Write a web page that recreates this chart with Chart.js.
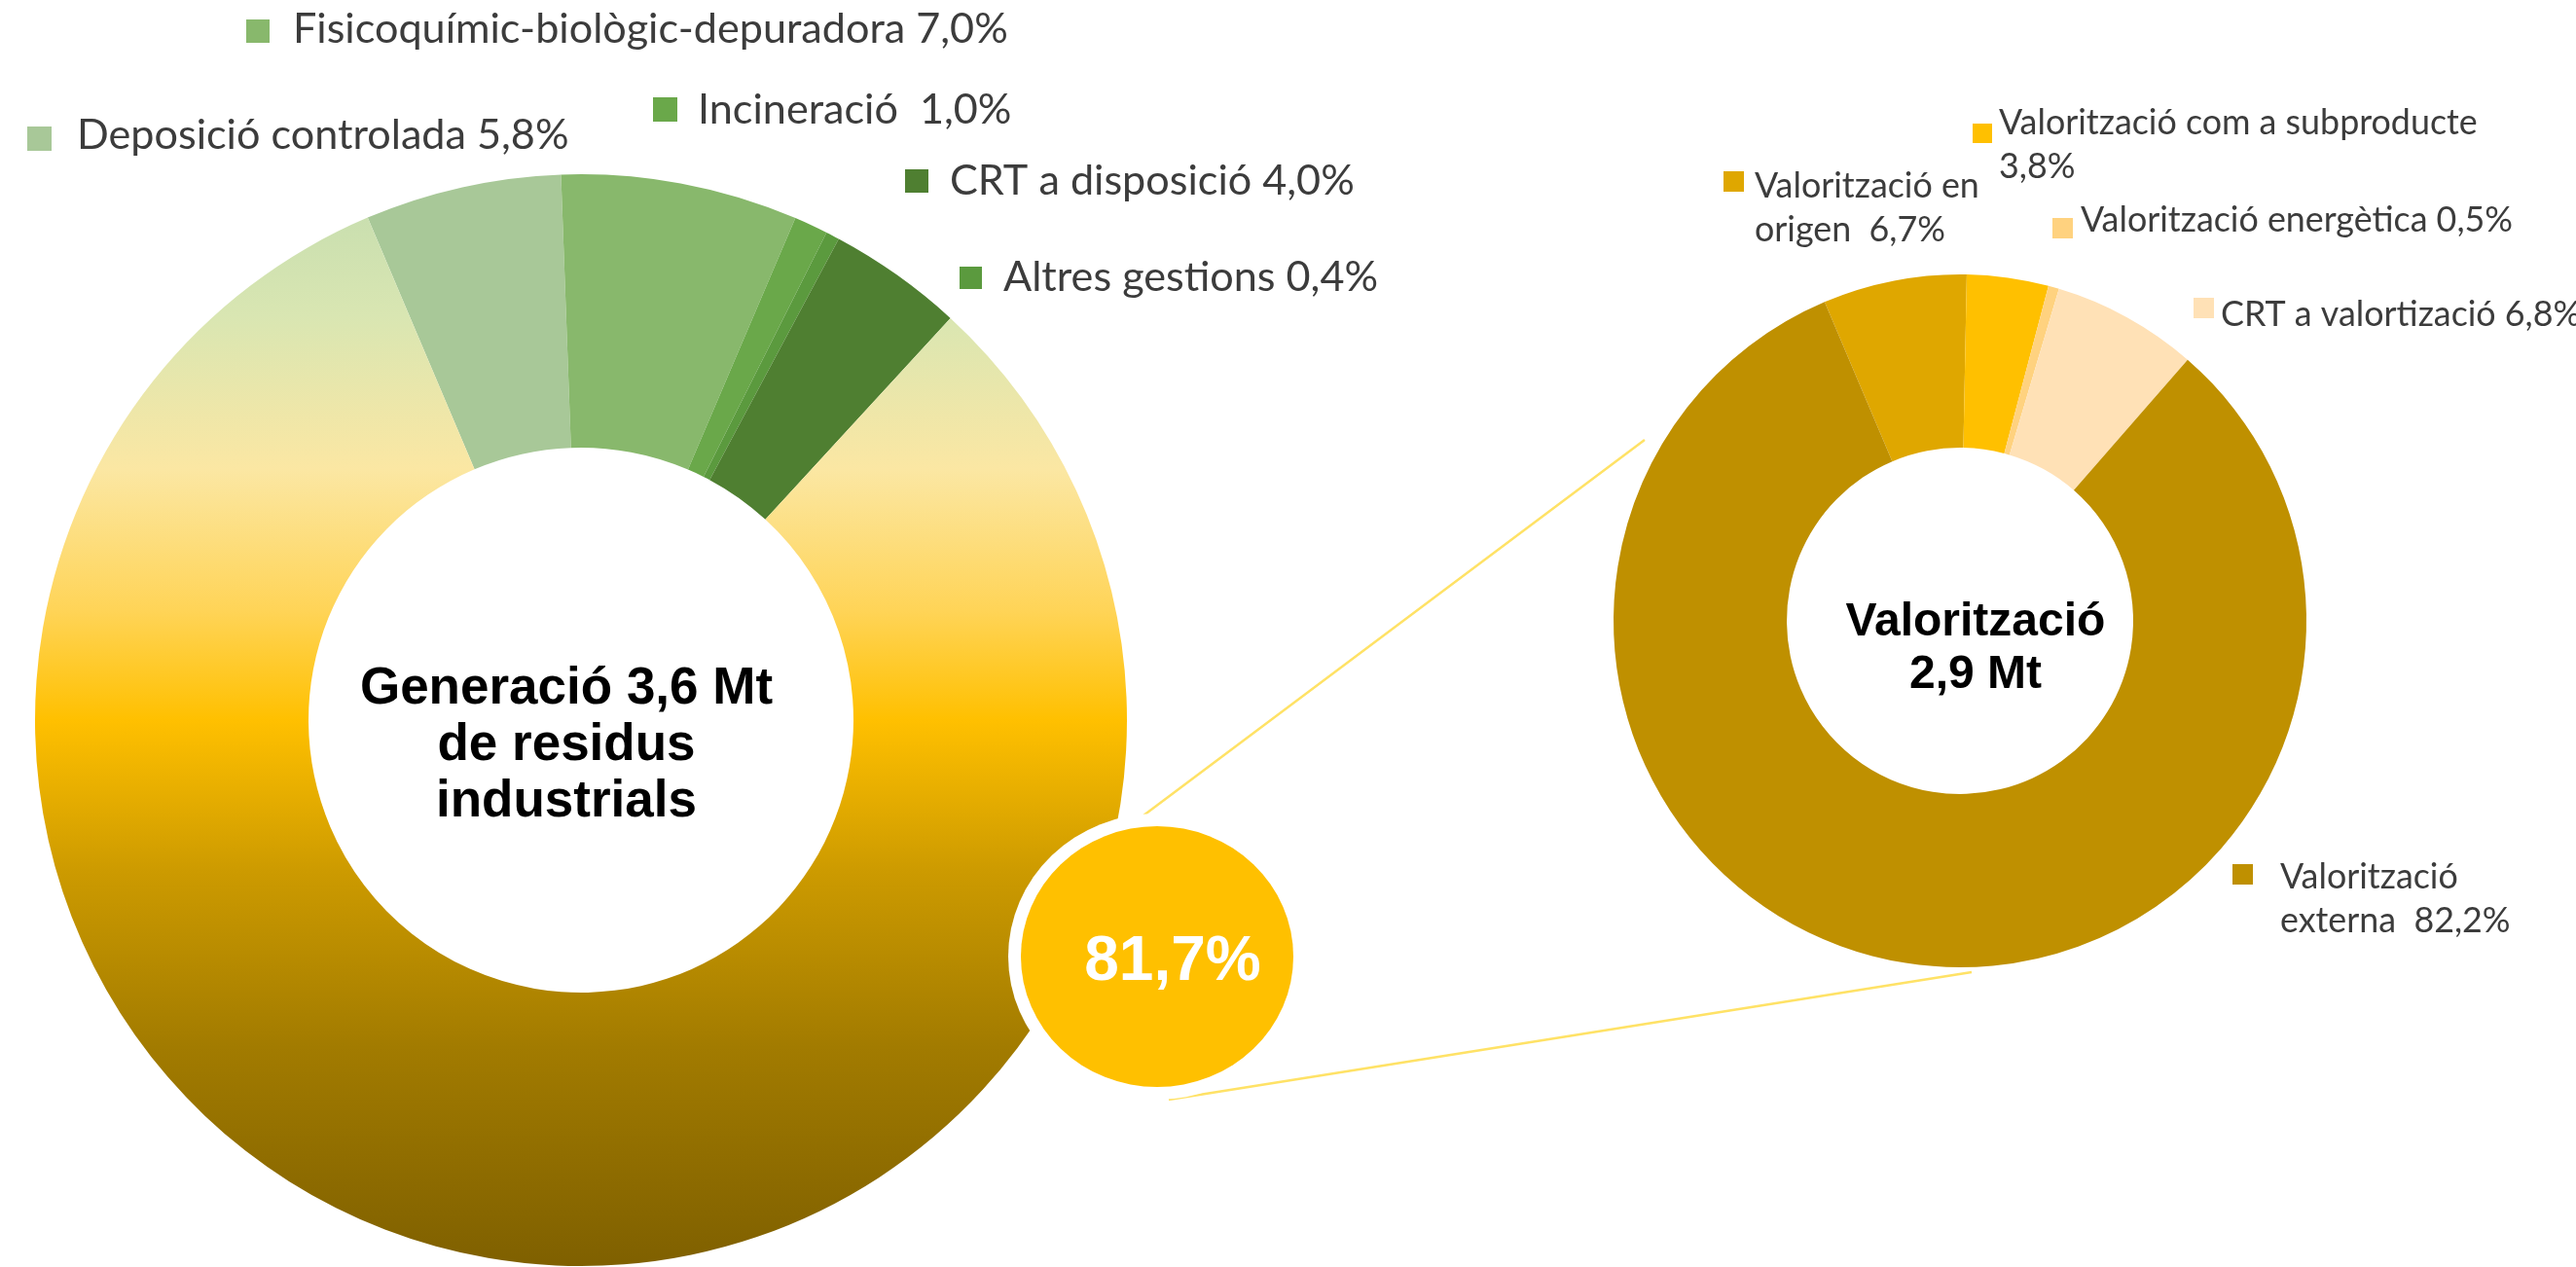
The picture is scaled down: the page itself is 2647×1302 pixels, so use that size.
<!DOCTYPE html>
<html><head><meta charset="utf-8">
<script src="https://cdn.jsdelivr.net/npm/chart.js@4.4.0/dist/chart.umd.min.js"></script>
<style>
html,body{margin:0;padding:0;background:#fff;}
#wrap{position:relative;width:2647px;height:1302px;overflow:hidden;}
canvas{position:absolute;left:0;top:0;}
</style></head><body>
<div id="wrap"><canvas id="c1" width="2647" height="1302"></canvas><canvas id="c2" width="2647" height="1302"></canvas></div>
<script>
// ---- data ----
const genLabels = ['Deposició controlada', 'Fisicoquímic-biològic-depuradora', 'Incineració', 'Altres gestions', 'CRT a disposició', 'Valorització'];
const genValues = [5.8, 7.0, 1.0, 0.4, 4.0, 81.7];
const genColors = ['#a8c898', '#88b86c', '#6aa84a', '#5b9a3e', '#4f7f31', null];
const valLabels = ['Valorització en origen', 'Valorització com a subproducte', 'Valorització energètica', 'CRT a valortizació', 'Valorització externa'];
const valValues = [6.7, 3.8, 0.5, 6.8, 82.2];
const valColors = ['#dfa700', '#ffc000', '#ffd27f', '#ffe1b6', '#bf9000'];
const genTitle = ['Generació 3,6 Mt', 'de residus', 'industrials'];
const valTitle = ['Valorització', '2,9 Mt'];
const calloutValue = 81.7;

const fmt = v => v.toFixed(1).replace('.', ',') + '%';
const LABEL_FONT = 'Lato, "Open Sans", sans-serif';
const BOLD_FONT = '"Liberation Sans", Arial, sans-serif';
const TEXT_COLOR = '#3c3c3c';

function fitSize(ctx, text, family, target) {
  ctx.font = '100px ' + family;
  return 100 * target / ctx.measureText(text).width;
}

// left labels: index -> lines and placement
const genLabelLines = [
  [genLabels[0] + ' ' + fmt(genValues[0])],
  [genLabels[1] + ' ' + fmt(genValues[1])],
  [genLabels[2] + '  ' + fmt(genValues[2])],
  [genLabels[3] + ' ' + fmt(genValues[3])],
  [genLabels[4] + ' ' + fmt(genValues[4])]
];
const genLabelPos = [
  {sx: 28, sy: 130, s: 25, tx: 79, by: 153},
  {sx: 253, sy: 20, s: 24, tx: 301, by: 44},
  {sx: 671, sy: 100, s: 25, tx: 717, by: 127},
  {sx: 986, sy: 274, s: 23, tx: 1031, by: 299},
  {sx: 930, sy: 174, s: 24, tx: 976, by: 200}
];
const valLabelLines = [
  ['Valorització en', 'origen  ' + fmt(valValues[0])],
  [valLabels[1], fmt(valValues[1])],
  [valLabels[2] + ' ' + fmt(valValues[2])],
  [valLabels[3] + ' ' + fmt(valValues[3])],
  ['Valorització', 'externa  ' + fmt(valValues[4])]
];
const valLabelPos = [
  {sx: 1771, sy: 176, s: 21, tx: 1803, by: 203},
  {sx: 2027, sy: 127, s: 20, tx: 2054, by: 138},
  {sx: 2109, sy: 224, s: 21, tx: 2138, by: 238},
  {sx: 2254, sy: 306, s: 21, tx: 2282, by: 335},
  {sx: 2294, sy: 888, s: 21, tx: 2343, by: 913}
];

function drawLabels(ctx, lines, pos, colors, size, lh) {
  ctx.save();
  ctx.font = size.toFixed(2) + 'px ' + LABEL_FONT;
  ctx.textBaseline = 'alphabetic';
  ctx.textAlign = 'left';
  lines.forEach((ls, i) => {
    const p = pos[i];
    ctx.fillStyle = colors[i];
    ctx.fillRect(p.sx, p.sy, p.s, p.s);
    ctx.fillStyle = TEXT_COLOR;
    ls.forEach((t, k) => ctx.fillText(t, p.tx, p.by + k * lh));
  });
  ctx.restore();
}

function valGradient(chart) {
  const a = chart.chartArea;
  const g = chart.ctx.createLinearGradient(0, a.top, 0, a.bottom);
  g.addColorStop(0.00, '#c3dcae');
  g.addColorStop(0.13, '#d9e6b2');
  g.addColorStop(0.27, '#fbe7a3');
  g.addColorStop(0.40, '#ffd457');
  g.addColorStop(0.50, '#ffc000');
  g.addColorStop(0.64, '#cc9a00');
  g.addColorStop(0.80, '#a27b00');
  g.addColorStop(1.00, '#7f6000');
  return g;
}

const overlayLeft = {
  id: 'overlayLeft',
  afterDraw(chart) {
    const ctx = chart.ctx;
    const arc = chart.getDatasetMeta(0).data[0];
    const cx = arc.x, cy = arc.y;
    // connector lines
    ctx.save();
    ctx.strokeStyle = '#ffe266';
    ctx.lineWidth = 2.5;
    ctx.beginPath();
    ctx.moveTo(1175, 838); ctx.lineTo(1690, 452);
    ctx.moveTo(1201, 1130); ctx.lineTo(2026, 999);
    ctx.stroke();
    // callout bubble
    const bx = 1189, by = 983;
    ctx.fillStyle = '#ffffff';
    ctx.beginPath(); ctx.ellipse(bx, by, 153, 147, 0, 0, Math.PI * 2); ctx.fill();
    ctx.fillStyle = '#ffc000';
    ctx.beginPath(); ctx.ellipse(bx, by, 140, 134, 0, 0, Math.PI * 2); ctx.fill();
    ctx.fillStyle = '#ffffff';
    ctx.font = 'bold 64px ' + BOLD_FONT;
    ctx.textAlign = 'center';
    ctx.textBaseline = 'alphabetic';
    ctx.fillText(fmt(calloutValue), bx + 16, 1007);
    // centre title
    ctx.fillStyle = '#000000';
    ctx.font = 'bold 53px ' + BOLD_FONT;
    genTitle.forEach((t, k) => ctx.fillText(t, cx - 15, 723 + k * 58));
    ctx.restore();
    const size = fitSize(ctx, genLabelLines[1][0], LABEL_FONT, 735);
    drawLabels(ctx, genLabelLines, genLabelPos, genColors, size, 0);
  }
};

const overlayRight = {
  id: 'overlayRight',
  afterDraw(chart) {
    const ctx = chart.ctx;
    const arc = chart.getDatasetMeta(0).data[0];
    ctx.save();
    ctx.fillStyle = '#000000';
    ctx.font = 'bold 48px ' + BOLD_FONT;
    ctx.textAlign = 'center';
    ctx.textBaseline = 'alphabetic';
    valTitle.forEach((t, k) => ctx.fillText(t, arc.x + 16, 653 + k * 54));
    ctx.restore();
    const size = fitSize(ctx, valLabelLines[1][0], LABEL_FONT, 492);
    drawLabels(ctx, valLabelLines, valLabelPos, valColors, size, 45);
  }
};

new Chart(document.getElementById('c1'), {
  type: 'doughnut',
  data: {
    labels: genLabels,
    datasets: [{
      data: genValues,
      backgroundColor: (c) => {
        const col = genColors[c.dataIndex];
        if (col) return col;
        return c.chart.chartArea ? valGradient(c.chart) : '#ffc000';
      },
      borderWidth: 0, hoverOffset: 0, offset: 0
    }]
  },
  options: {
    responsive: false, animation: false, events: [],
    rotation: -23, radius: 561, cutout: 280,
    layout: {padding: {left: 36, right: 1489, top: 179, bottom: 1}},
    plugins: {legend: {display: false}, tooltip: {enabled: false}}
  },
  plugins: [overlayLeft]
});

new Chart(document.getElementById('c2'), {
  type: 'doughnut',
  data: {
    labels: valLabels,
    datasets: [{data: valValues, backgroundColor: valColors, borderWidth: 0, hoverOffset: 0, offset: 0}]
  },
  options: {
    responsive: false, animation: false, events: [],
    rotation: -23, radius: 356, cutout: 178,
    layout: {padding: {left: 1658, right: 277, top: 282, bottom: 308}},
    plugins: {legend: {display: false}, tooltip: {enabled: false}}
  },
  plugins: [overlayRight]
});
</script>
</body></html>
